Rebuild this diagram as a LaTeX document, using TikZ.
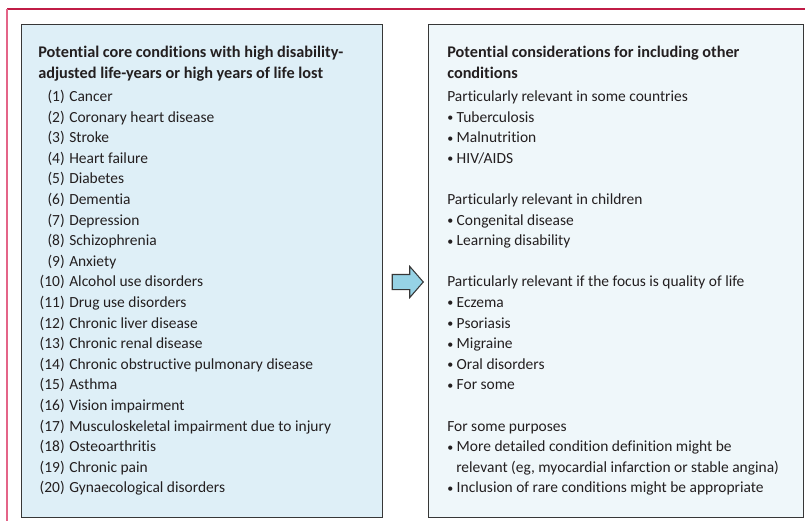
\documentclass[tikz,border=0pt]{standalone}
\usepackage{fontspec}
\setmainfont{Carlito}[Ligatures=NoCommon]
\usetikzlibrary{positioning, shapes.arrows}
\definecolor{frame}{RGB}{192,28,70}
\definecolor{framelight}{RGB}{228,100,136}
\definecolor{coreblue}{RGB}{222,239,247}
\definecolor{otherblue}{RGB}{239,247,250}
\definecolor{arrowblue}{RGB}{150,210,229}
\definecolor{edge}{RGB}{55,55,55}
\definecolor{ink}{RGB}{35,31,32}
\tikzstyle{panel}=[rectangle, draw=edge, line width=1pt, anchor=north west, inner sep=0]
\tikzstyle{item}=[inner sep=0, text=ink, font=\fontsize{11.6}{13}\selectfont]
\tikzstyle{head}=[item, font=\fontsize{12.2}{14}\selectfont\bfseries]
\tikzstyle{pointer}=[single arrow, draw=edge, fill=arrowblue, line width=.8pt, inner xsep=0, inner ysep=5.25pt,
  minimum height=23.25pt, single arrow head extend=6pt, single arrow tip angle=98]
\newcommand{\dotitem}{{\fontsize{9}{9}\selectfont\raisebox{.12ex}{\textbullet}}\ }

\begin{document}
\begin{tikzpicture}[x=.75pt, y=-.75pt]
            \useasboundingbox (0,0) rectangle (805,521);
            %outer rule, top and left side only
            \draw[frame, line width=1pt] (7,9) -- (805,9);
            \draw[framelight, line width=1pt] (7,9) -- (7,521);
            %two panels and the arrow between them
            \node[panel, fill=coreblue, minimum width=270.75pt, minimum height=369.75pt](core) at (21,24){};
            \node[panel, fill=otherblue, minimum width=281.25pt, minimum height=369.75pt](other) at (428,24){};
            \node[pointer](to) at (404.5,282){};
            %left panel
            \node[head, anchor=base west](coreh1) at (38,57){Potential core conditions with high disability-};
            \node[head, anchor=base west](coreh2) at (38,78){adjusted life-years or high years of life lost};
            \foreach \n/\txt in {1/Cancer, 2/Coronary heart disease, 3/Stroke, 4/Heart failure,
                5/Diabetes, 6/Dementia, 7/Depression, 8/Schizophrenia, 9/Anxiety,
                10/Alcohol use disorders, 11/Drug use disorders, 12/Chronic liver disease,
                13/Chronic renal disease, 14/Chronic obstructive pulmonary disease, 15/Asthma,
                16/Vision impairment, 17/Musculoskeletal impairment due to injury,
                18/Osteoarthritis, 19/Chronic pain, 20/Gynaecological disorders}{
                \node[item, anchor=base east](num\n) at (65,{101.5+20.6*(\n-1)}){(\n)};
                \node[item, anchor=base west](c\n) at (69,{101.5+20.6*(\n-1)}){\txt};
            }
            %right panel
            \node[head, anchor=base west](otherh1) at (447,57){Potential considerations for including other};
            \node[head, anchor=base west](otherh2) at (447,78){conditions};
            \foreach \i/\x/\txt in {0/447/{Particularly relevant in some countries},
                1/447/{\dotitem Tuberculosis}, 2/447/{\dotitem Malnutrition},
                3/447/{\dotitem HIV/AIDS},
                5/447/{Particularly relevant in children},
                6/447/{\dotitem Congenital disease}, 7/447/{\dotitem Learning disability},
                9/447/{Particularly relevant if the focus is quality of life},
                10/447/{\dotitem Eczema}, 11/447/{\dotitem Psoriasis},
                12/447/{\dotitem Migraine}, 13/447/{\dotitem Oral disorders},
                14/447/{\dotitem For some},
                16/447/{For some purposes},
                17/447/{\dotitem More detailed condition definition might be},
                18/456/{relevant (eg, myocardial infarction or stable angina)},
                19/447/{\dotitem Inclusion of rare conditions might be appropriate}}{
                \node[item, anchor=base west](r\i) at (\x,{101.5+20.6*\i}){\txt};
            }
\end{tikzpicture}
\end{document}
